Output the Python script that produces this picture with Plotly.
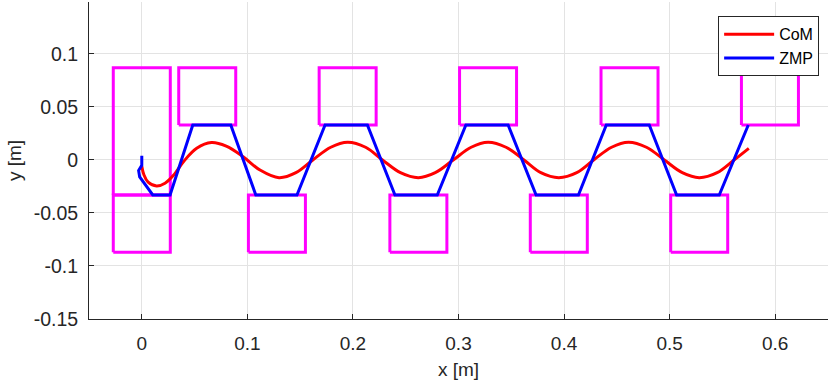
import plotly.graph_objects as go

# CoM trajectory (x, y) [m]
com_x = [0, 0.002, 0.006, 0.014, 0.022, 0.030, 0.040, 0.052, 0.066, 0.080,
         0.096, 0.112, 0.130, 0.146, 0.162, 0.179, 0.195, 0.212, 0.228, 0.245,
         0.262, 0.278, 0.295, 0.312, 0.328, 0.345, 0.362, 0.378, 0.395, 0.412,
         0.428, 0.445, 0.461, 0.478, 0.495, 0.512, 0.528, 0.545, 0.561, 0.575]
com_y = [-0.006, -0.014, -0.021, -0.0246, -0.022, -0.0145, -0.001, 0.011, 0.0164, 0.013,
         0.003, -0.0095, -0.0167, -0.012, 0, 0.012, 0.0167, 0.012, 0, -0.012,
         -0.0167, -0.012, 0, 0.012, 0.0167, 0.012, 0, -0.012, -0.0167, -0.012,
         0, 0.012, 0.0167, 0.012, 0, -0.012, -0.0167, -0.012, 0, 0.011]

# ZMP trajectory vertices
zmp_x = [0, 0, -0.003, -0.002, 0.0104, 0.0268, 0.0483, 0.0843, 0.108, 0.147,
         0.1736, 0.2137, 0.2398, 0.2799, 0.307, 0.347, 0.3735, 0.4136, 0.440,
         0.4807, 0.5066, 0.547, 0.5745]
zmp_y = [0.004, -0.005, -0.010, -0.016, -0.033, -0.033, 0.033, 0.033, -0.033, -0.033,
         0.033, 0.033, -0.033, -0.033, 0.033, 0.033, -0.033, -0.033, 0.033,
         0.033, -0.033, -0.033, 0.033]

# footprints: (x_min, x_max, y_min, y_max)
feet = [
    (-0.027, 0.027, -0.033, 0.087),
    (-0.027, 0.027, -0.087, -0.033),
    (0.035, 0.089, 0.033, 0.087),
    (0.101, 0.155, -0.087, -0.033),
    (0.168, 0.222, 0.033, 0.087),
    (0.235, 0.289, -0.087, -0.033),
    (0.301, 0.355, 0.033, 0.087),
    (0.368, 0.422, -0.087, -0.033),
    (0.435, 0.489, 0.033, 0.087),
    (0.501, 0.555, -0.087, -0.033),
    (0.568, 0.622, 0.033, 0.087),
]

x_ticks = [0, 0.1, 0.2, 0.3, 0.4, 0.5, 0.6]
x_labels = ["0", "0.1", "0.2", "0.3", "0.4", "0.5", "0.6"]
y_ticks = [0.1, 0.05, 0, -0.05, -0.1, -0.15]
y_labels = ["0.1", "0.05", "0", "-0.05", "-0.1", "-0.15"]

axis_col = "#262626"
font_family = "Liberation Sans, Arial, sans-serif"

fig = go.Figure()

for x0, x1, y0, y1 in feet:
    fig.add_trace(go.Scatter(
        x=[x0, x1, x1, x0, x0],
        y=[y0, y0, y1, y1, y0],
        mode="lines",
        line=dict(color="#FF00FF", width=3),
        showlegend=False,
        hoverinfo="skip",
    ))

fig.add_trace(go.Scatter(
    x=com_x, y=com_y, mode="lines", name="CoM",
    line=dict(color="#FF0000", width=3, shape="spline"),
))
fig.add_trace(go.Scatter(
    x=zmp_x, y=zmp_y, mode="lines", name="ZMP",
    line=dict(color="#0000FF", width=3),
))

fig.update_layout(
    width=830,
    height=384,
    paper_bgcolor="white",
    plot_bgcolor="white",
    font=dict(family=font_family, color=axis_col, size=19),
    margin=go.layout.Margin(
        l=89,  # left margin
        r=2,  # right margin
        b=65,  # bottom margin
        t=2,  # top margin
    ),
    xaxis=dict(
        range=[-0.05, 0.65],
        tickvals=x_ticks,
        ticktext=x_labels,
        ticks="inside",
        ticklen=5,
        tickcolor=axis_col,
        ticklabelstandoff=7,
        showline=True,
        linecolor=axis_col,
        linewidth=1,
        showgrid=True,
        gridcolor="#E3E3E3",
        gridwidth=1,
        zeroline=False,
        automargin=False,
        title=dict(text="x [m]", font=dict(size=19), standoff=9),
        tickfont=dict(size=19),
    ),
    yaxis=dict(
        range=[-0.15, 0.149],
        tickvals=y_ticks,
        ticktext=y_labels,
        ticks="inside",
        ticklen=5,
        tickcolor=axis_col,
        ticklabelstandoff=6,
        showline=True,
        linecolor=axis_col,
        linewidth=1,
        showgrid=True,
        gridcolor="#E3E3E3",
        gridwidth=1,
        zeroline=False,
        automargin=False,
        title=dict(text="y [m]", font=dict(size=19), standoff=6),
        tickfont=dict(size=19.5),
    ),
    legend=dict(
        x=0.988,
        y=0.955,
        xanchor="right",
        yanchor="top",
        bgcolor="white",
        bordercolor=axis_col,
        borderwidth=1,
        itemwidth=50,
        font=dict(size=16, color="black"),
        tracegroupgap=0,
    ),
)

# drop the default page margin so the figure sits at the window origin
fig.write_html(
    "out.html",
    config={"displayModeBar": False},
    post_script="document.body.style.margin='0';",
)
